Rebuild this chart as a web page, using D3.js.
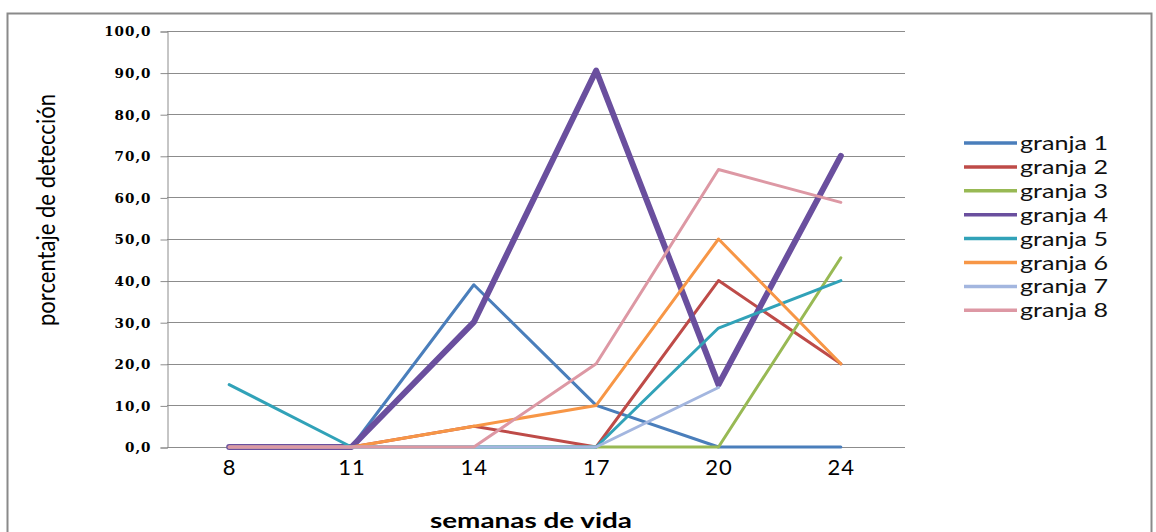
<!DOCTYPE html>
<html>
<head>
<meta charset="utf-8">
<script src="https://cdn.jsdelivr.net/npm/d3@7"></script>
<style>
  html, body { margin: 0; padding: 0; background: #fff; }
  svg { display: block; }
</style>
</head>
<body>
<svg id="chart" width="1156" height="532"></svg>
<script>
const categories = ["8", "11", "14", "17", "20", "24"];
const seriesNames = ["granja 1", "granja 2", "granja 3", "granja 4", "granja 5", "granja 6", "granja 7", "granja 8"];
const granja1 = [0, 0, 39, 10, 0, 0];
const granja2 = [0, 0, 5, 0, 40, 20];
const granja3 = [0, 0, 0, 0, 0, 45.5];
const granja4 = [0, 0, 30, 90.5, 15, 70];
const granja5 = [15, 0, 0, 0, 28.6, 40];
const granja6 = [0, 0, 5, 10, 50, 20];
const granja7 = [0, 0, 0, 0, 14.3, null];
const granja8 = [0, 0, 0, 20, 66.7, 58.8];
const yTicks = [0, 10, 20, 30, 40, 50, 60, 70, 80, 90, 100];
const colors = ["#4A7EBB", "#BE4B48", "#98B954", "#6A4F9E", "#31A2B8", "#F79646", "#A3B6DF", "#DD98A4"];
const widths = [3, 3, 3, 6, 3, 3, 3, 3];

const seriesValues = [granja1, granja2, granja3, granja4, granja5, granja6, granja7, granja8];

const svg = d3.select("#chart");

// outer frame
svg.append("rect")
  .attr("x", 7.5).attr("y", 13.5).attr("width", 1144).attr("height", 540)
  .attr("fill", "#fff").attr("stroke", "#8a8a8a").attr("stroke-width", 2);

const x = d3.scalePoint().domain(categories).range([168, 902]).padding(0.5);
const y = d3.scaleLinear().domain([0, 100]).range([447, 31]);

// gridlines
svg.append("g").selectAll("line").data(yTicks).join("line")
  .attr("x1", 167).attr("x2", 905)
  .attr("y1", d => Math.round(y(d)) + 0.5).attr("y2", d => Math.round(y(d)) + 0.5)
  .attr("stroke", "#8c8c8c").attr("stroke-width", 1);

// y axis
const yAxis = d3.axisLeft(y).tickValues(yTicks).tickSize(7).tickPadding(9)
  .tickFormat(d => d3.format(".1f")(d).replace(".", ","));
const gy = svg.append("g").attr("transform", "translate(167.5,0.5)").call(yAxis);
gy.select(".domain").attr("stroke", "#8c8c8c");
gy.selectAll(".tick line").attr("stroke", "#8c8c8c");
gy.selectAll(".tick text")
  .attr("font-family", "'DejaVu Serif', serif").attr("font-weight", "bold")
  .attr("font-size", 13.5).attr("fill", "#000").attr("letter-spacing", "1px");

// x axis labels
const xAxis = d3.axisBottom(x).tickSize(0).tickPadding(12);
const gx = svg.append("g").attr("transform", "translate(0,447)").call(xAxis);
gx.select(".domain").remove();
gx.selectAll(".tick text")
  .attr("font-family", "Lato, 'Open Sans', sans-serif").attr("font-size", 22)
  .attr("fill", "#000").attr("letter-spacing", "1px");

// axis titles
svg.append("text").attr("x", 531).attr("y", 528).attr("text-anchor", "middle")
  .attr("font-family", "Lato, 'Open Sans', sans-serif").attr("font-weight", "bold")
  .attr("font-size", 21).attr("textLength", 202).attr("lengthAdjust", "spacingAndGlyphs")
  .text("semanas de vida");

svg.append("text").attr("transform", "translate(55,210) rotate(-90)")
  .attr("text-anchor", "middle")
  .attr("font-family", "Lato, 'Open Sans', sans-serif")
  .attr("font-size", 25).attr("textLength", 232).attr("lengthAdjust", "spacingAndGlyphs")
  .text("porcentaje de detección");

// lines
const line = d3.line()
  .defined(d => d.v !== null)
  .x(d => x(d.c)).y(d => y(d.v));

const series = seriesNames.map((name, i) => ({
  name, color: colors[i], width: widths[i],
  points: categories.map((c, j) => ({ c, v: seriesValues[i][j] }))
}));

svg.append("g").selectAll("path").data(series).join("path")
  .attr("d", d => line(d.points))
  .attr("fill", "none").attr("stroke", d => d.color)
  .attr("stroke-width", d => d.width)
  .attr("stroke-linejoin", "round").attr("stroke-linecap", "round");

// legend
const lg = svg.append("g");
const rowY = i => 143 + i * 23.9;
lg.selectAll("line").data(series).join("line")
  .attr("x1", 964).attr("x2", 1017)
  .attr("y1", (d, i) => rowY(i)).attr("y2", (d, i) => rowY(i))
  .attr("stroke", d => d.color).attr("stroke-width", 3.5);
lg.selectAll("text").data(series).join("text")
  .attr("x", 1020).attr("y", (d, i) => rowY(i) + 7)
  .attr("font-family", "Lato, 'Open Sans', sans-serif").attr("font-size", 20)
  .attr("textLength", 88).attr("lengthAdjust", "spacingAndGlyphs")
  .attr("fill", "#111")
  .text(d => d.name);
</script>
</body>
</html>
